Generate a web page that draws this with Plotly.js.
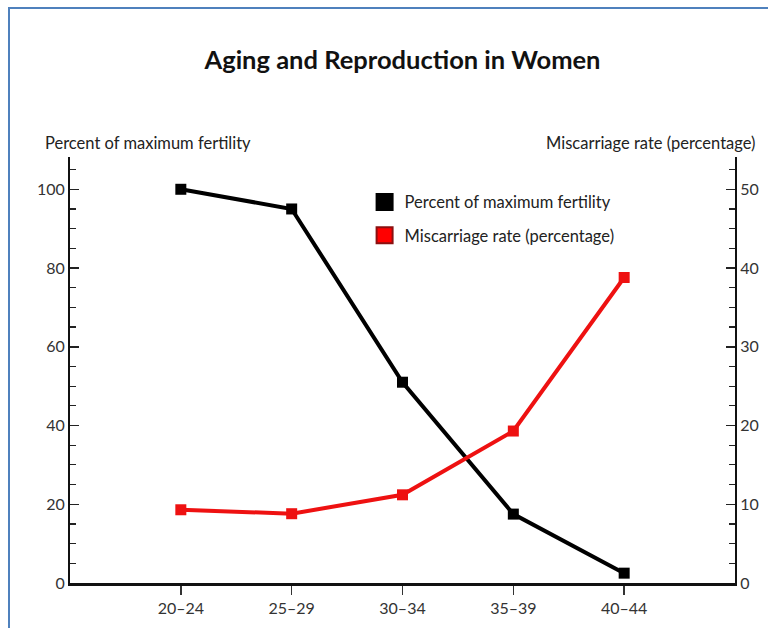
<!DOCTYPE html>
<html>
<head>
<meta charset="utf-8">
<script src="https://cdn.plot.ly/plotly-3.0.1.min.js"></script>
<style>
  html, body { margin: 0; padding: 0; background: #ffffff; overflow: hidden; }
  #frame { position: absolute; left: 8px; top: 7px; width: 900px; height: 900px;
           border-left: 2px solid #4f81bd; border-top: 2px solid #4f81bd; pointer-events: none; z-index: 5; }
  #chart { width: 768px; height: 628px; }
</style>
</head>
<body>
<div id="frame"></div>
<div id="chart"></div>
<script>
var ageGroups = ["20–24", "25–29", "30–34", "35–39", "40–44"];
var fertilityPct = [100, 95, 51, 17.5, 2.5];
var miscarriagePct = [9.3, 8.8, 11.2, 19.3, 38.8];

var fertilityName = "Percent of maximum fertility";
var miscarriageName = "Miscarriage rate (percentage)";
var titleText = "Aging and Reproduction in Women";

var FONT = "Lato, 'Open Sans', sans-serif";
var RED = "#ee1111";

var traces = [
  {
    x: ageGroups, y: fertilityPct, yaxis: "y", type: "scatter", mode: "lines+markers",
    name: fertilityName, showlegend: false,
    line: { color: "#000000", width: 4 },
    marker: { symbol: "square", size: 11, color: "#000000" }
  },
  {
    x: ageGroups, y: miscarriagePct, yaxis: "y2", type: "scatter", mode: "lines+markers",
    name: miscarriageName, showlegend: false,
    line: { color: RED, width: 4 },
    marker: { symbol: "square", size: 11, color: RED }
  },
  {
    x: [null], y: [null], type: "scatter", mode: "markers", name: fertilityName,
    legendgroup: "a",
    marker: { symbol: "square", size: 16, color: "#000000", line: { color: "#000000", width: 2 } }
  },
  {
    x: [null], y: [null], type: "scatter", mode: "markers", name: miscarriageName,
    legendgroup: "b",
    marker: { symbol: "square", size: 16, color: "#ff0000", line: { color: "#8a1010", width: 2 } }
  }
];

var layout = {
  width: 768, height: 628,
  margin: { l: 70, r: 33, t: 157, b: 45 },
  paper_bgcolor: "#ffffff", plot_bgcolor: "#ffffff",
  font: { family: FONT, size: 16, color: "#333333" },
  title: {
    text: "<b>" + titleText + "</b>",
    font: { family: FONT, size: 25.5, color: "#111111" },
    x: 0.5, xref: "paper", xanchor: "center",
    y: 1 - 60 / 628, yref: "container", yanchor: "middle"
  },
  showlegend: true,
  legend: {
    x: 0.443, y: 0.935, xanchor: "left", yanchor: "top",
    bgcolor: "rgba(0,0,0,0)", font: { family: FONT, size: 16.5, color: "#222222" },
    tracegroupgap: 9, itemwidth: 30
  },
  xaxis: {
    type: "category", range: [-1, 5], fixedrange: true,
    showline: true, linecolor: "#111111", linewidth: 3,
    showgrid: false, zeroline: false,
    ticks: "outside", ticklen: 9, tickwidth: 1.5, tickcolor: "#333333",
    tickfont: { family: FONT, size: 16, color: "#333333" }
  },
  yaxis: {
    range: [0, 108.2], dtick: 20, tick0: 0, fixedrange: true,
    showline: true, linecolor: "#111111", linewidth: 2,
    showgrid: false, zeroline: false,
    ticks: "inside", ticklen: 9, tickwidth: 1.5, tickcolor: "#222222",
    minor: { dtick: 5, ticks: "inside", ticklen: 6, tickwidth: 1.2, tickcolor: "#222222", showgrid: false },
    tickfont: { family: FONT, size: 16, color: "#333333" }
  },
  yaxis2: {
    overlaying: "y", side: "right", anchor: "x",
    range: [0, 54.1], dtick: 10, tick0: 0, fixedrange: true,
    showline: true, linecolor: "#111111", linewidth: 2,
    showgrid: false, zeroline: false,
    ticks: "inside", ticklen: 9, tickwidth: 1.5, tickcolor: "#222222",
    minor: { dtick: 2.5, ticks: "inside", ticklen: 6, tickwidth: 1.2, tickcolor: "#222222", showgrid: false },
    tickfont: { family: FONT, size: 16, color: "#333333" }
  },
  annotations: [
    {
      text: fertilityName, xref: "paper", yref: "paper",
      x: -0.041, y: (583 - 143) / 426, xanchor: "left", yanchor: "middle",
      showarrow: false, font: { family: FONT, size: 16.5, color: "#222222" }
    },
    {
      text: miscarriageName, xref: "paper", yref: "paper",
      x: 1.033, y: (583 - 143) / 426, xanchor: "right", yanchor: "middle",
      showarrow: false, font: { family: FONT, size: 16.5, color: "#222222" }
    }
  ]
};

Plotly.newPlot("chart", traces, layout, { displayModeBar: false, staticPlot: true });
</script>
</body>
</html>
